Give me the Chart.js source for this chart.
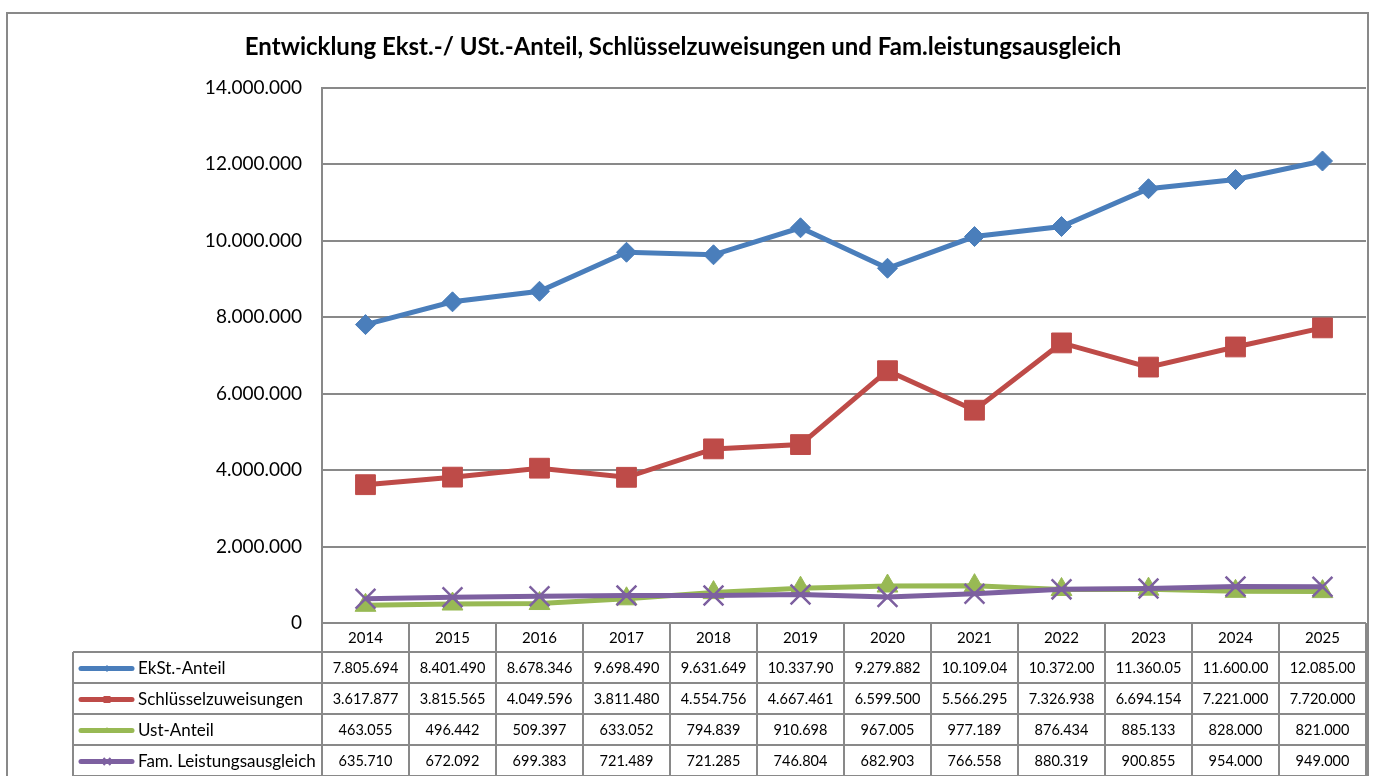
<!DOCTYPE html>
<html>
<head>
<meta charset="utf-8">
<script src="https://cdn.jsdelivr.net/npm/chart.js@4/dist/chart.umd.min.js"></script>
<style>
  html, body { margin: 0; padding: 0; background: #fff; overflow: hidden; }
  #wrap { width: 1374px; height: 776px; }
  canvas { display: block; }
</style>
</head>
<body>
<div id="wrap"><canvas id="chart" width="1374" height="776"></canvas></div>
<script>
// chart data
const years = ['2014', '2015', '2016', '2017', '2018', '2019', '2020', '2021', '2022', '2023', '2024', '2025'];
const ekstAnteil = [7805694, 8401490, 8678346, 9698490, 9631649, 10337900, 9279882, 10109040, 10372000, 11360050, 11600000, 12085000];
const schluesselzuweisungen = [3617877, 3815565, 4049596, 3811480, 4554756, 4667461, 6599500, 5566295, 7326938, 6694154, 7221000, 7720000];
const ustAnteil = [463055, 496442, 509397, 633052, 794839, 910698, 967005, 977189, 876434, 885133, 828000, 821000];
const famLeistungsausgleich = [635710, 672092, 699383, 721489, 721285, 746804, 682903, 766558, 880319, 900855, 954000, 949000];
const seriesNames = ['EkSt.-Anteil', 'Schlüsselzuweisungen', 'Ust-Anteil', 'Fam. Leistungsausgleich'];
const yTicks = [0, 2000000, 4000000, 6000000, 8000000, 10000000, 12000000, 14000000];
const chartTitle = 'Entwicklung Ekst.-/ USt.-Anteil, Schlüsselzuweisungen und Fam.leistungsausgleich';

const colors = ['#4A7EBB', '#BE4B48', '#98B954', '#7D60A0'];
const styles = ['rectRot', 'rect', 'triangle', 'crossRot'];
const FONT = 'Lato, "Open Sans", sans-serif';
const GRID = '#898989';
const CELL_CHARS = 9; // the data table cells only show this many characters

// German thousands separators
const fmt = (v) => String(Math.round(v)).replace(/\B(?=(\d{3})+(?!\d))/g, '.');

function drawMarker(ctx, style, x, y, r, color) {
    ctx.save();
    ctx.fillStyle = color;
    ctx.strokeStyle = color;
    ctx.lineWidth = 2;
    ctx.beginPath();
    if (style === 'rectRot') {
        ctx.moveTo(x - r, y); ctx.lineTo(x, y - r); ctx.lineTo(x + r, y); ctx.lineTo(x, y + r);
        ctx.closePath(); ctx.fill();
    } else if (style === 'rect') {
        ctx.rect(x - r, y - r, 2 * r, 2 * r); ctx.fill();
    } else if (style === 'triangle') {
        ctx.moveTo(x, y - r); ctx.lineTo(x + r, y + r * 0.6); ctx.lineTo(x - r, y + r * 0.6);
        ctx.closePath(); ctx.fill();
    } else {
        ctx.moveTo(x - r, y - r); ctx.lineTo(x + r, y + r);
        ctx.moveTo(x + r, y - r); ctx.lineTo(x - r, y + r);
        ctx.stroke();
    }
    ctx.restore();
}

const framePlugin = {
    id: 'frame',
    beforeDraw(chart) {
        const ctx = chart.ctx;
        ctx.save();
        ctx.fillStyle = '#fff';
        ctx.fillRect(0, 0, chart.width, chart.height);
        ctx.strokeStyle = GRID;
        ctx.lineWidth = 2;
        ctx.strokeRect(7, 13, 1361, 800);
        ctx.restore();
    }
};

const tablePlugin = {
    id: 'dataTable',
    afterDraw(chart) {
        const ctx = chart.ctx;
        const xs = chart.scales.x;
        const area = chart.chartArea;
        const step = xs.getPixelForValue(1) - xs.getPixelForValue(0);
        const top = area.bottom;
        const headBottom = top + 29;
        const rowH = 31;
        const labelLeft = 73;
        const rows = [ekstAnteil, schluesselzuweisungen, ustAnteil, famLeistungsausgleich];
        const bottom = headBottom + rowH * rows.length;

        ctx.save();
        ctx.strokeStyle = GRID;
        ctx.lineWidth = 2;
        ctx.beginPath();
        // column separators
        for (let i = 0; i <= years.length; i++) {
            const cx = Math.round(area.left + i * step);
            ctx.moveTo(cx, top); ctx.lineTo(cx, bottom);
        }
        ctx.moveTo(area.left, top); ctx.lineTo(area.right, top);
        for (let r = 0; r <= rows.length; r++) {
            const ry = headBottom + r * rowH;
            ctx.moveTo(labelLeft, ry); ctx.lineTo(area.right, ry);
        }
        ctx.moveTo(labelLeft, headBottom); ctx.lineTo(labelLeft, bottom);
        ctx.stroke();

        ctx.fillStyle = '#000';
        ctx.textBaseline = 'middle';
        ctx.font = '15px ' + FONT;
        ctx.textAlign = 'center';
        years.forEach((y, i) => ctx.fillText(y, xs.getPixelForValue(i), (top + headBottom) / 2 + 1));

        rows.forEach((data, r) => {
            const cy = headBottom + r * rowH + rowH / 2 + 1;
            // legend sample
            ctx.save();
            ctx.strokeStyle = colors[r];
            ctx.lineWidth = 5;
            ctx.lineCap = 'round';
            ctx.beginPath();
            ctx.moveTo(81, cy); ctx.lineTo(132, cy);
            ctx.stroke();
            ctx.restore();
            drawMarker(ctx, styles[r], 107, cy, 3.5, colors[r]);
            ctx.textAlign = 'left';
            ctx.font = '17px ' + FONT;
            ctx.fillText(seriesNames[r], 138, cy);

            ctx.font = '14.5px ' + FONT;
            ctx.textAlign = 'center';
            data.forEach((v, i) => {
                ctx.fillText(fmt(v).slice(0, CELL_CHARS), xs.getPixelForValue(i), cy);
            });
        });
        ctx.restore();
    }
};

const allSeries = [ekstAnteil, schluesselzuweisungen, ustAnteil, famLeistungsausgleich];
const radii = [10, 14, 12, 14];

new Chart(document.getElementById('chart'), {
    type: 'line',
    data: {
        labels: years,
        datasets: allSeries.map((data, i) => ({
            label: seriesNames[i],
            data,
            order: 3 - i,
            borderColor: colors[i],
            backgroundColor: colors[i],
            borderWidth: 5,
            tension: 0,
            pointStyle: styles[i],
            pointRadius: radii[i],
            pointBackgroundColor: colors[i],
            pointBorderColor: colors[i],
            pointBorderWidth: i === 3 ? 2.5 : 1
        }))
    },
    options: {
        responsive: false,
        animation: false,
        events: [],
        layout: { autoPadding: false, padding: { left: 0, right: 8, top: 0, bottom: 153 } },
        scales: {
            x: {
                type: 'category',
                offset: true,
                ticks: { display: false },
                grid: { display: false },
                border: { display: false },
                afterFit: (scale) => { scale.height = 0; }
            },
            y: {
                min: 0,
                max: 14000000,
                afterBuildTicks: (scale) => { scale.ticks = yTicks.map(v => ({ value: v })); },
                ticks: {
                    padding: 20,
                    color: '#000',
                    font: { family: FONT, size: 19 },
                    callback: (v) => fmt(v)
                },
                grid: { color: GRID, lineWidth: 2, drawTicks: false },
                border: { display: true, color: GRID, width: 2 },
                afterFit: (scale) => { scale.width = 322; }
            }
        },
        plugins: {
            legend: { display: false },
            tooltip: { enabled: false },
            title: {
                display: true,
                text: chartTitle,
                color: '#000',
                font: { family: FONT, size: 24, weight: 'bold' },
                padding: { top: 33, bottom: 26 }
            }
        }
    },
    plugins: [framePlugin, tablePlugin]
});
</script>
</body>
</html>
